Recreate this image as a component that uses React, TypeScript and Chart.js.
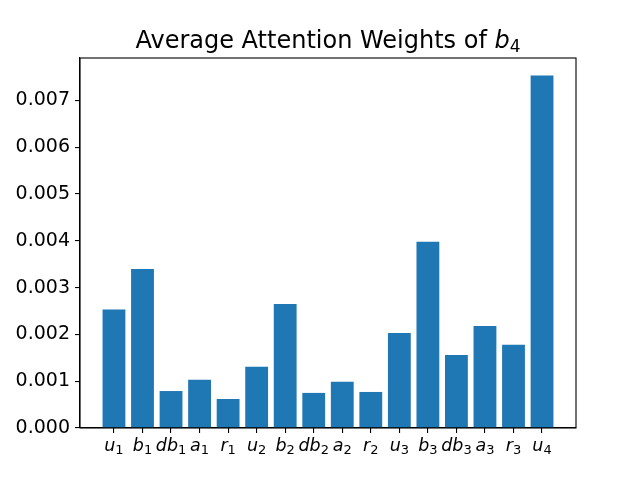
import React, { useEffect, useRef } from "react";
import { Chart, registerables } from "chart.js";

Chart.register(...registerables);

const labelVars = ["u", "b", "db", "a", "r", "u", "b", "db", "a", "r", "u", "b", "db", "a", "r", "u"];
const labelSubs = ["1", "1", "1", "1", "1", "2", "2", "2", "2", "2", "3", "3", "3", "3", "3", "4"];
const weights = [0.00253, 0.00340, 0.00079, 0.00103, 0.00062, 0.00131, 0.00265, 0.00075, 0.00099, 0.00077, 0.00203, 0.00398, 0.00156, 0.00218, 0.00178, 0.00753];
const titleMain = "Average Attention Weights of ";
const titleVar = "b";
const titleSub = "4";

const BLUE = "#1f77b4";

function drawMath(ctx: any, v: string, s: string, cx: number, y: number, size: number, subSize: number, shift: number, center: boolean) {
  const fVar = `oblique ${size}px "DejaVu Sans"`;
  const fSub = `${subSize}px "DejaVu Sans"`;
  ctx.font = fVar;
  const w1 = ctx.measureText(v).width;
  ctx.font = fSub;
  const w2 = ctx.measureText(s).width;
  let x = center ? cx - (w1 + w2) / 2 : cx;
  ctx.font = fVar;
  ctx.fillText(v, x, y);
  x += w1;
  ctx.font = fSub;
  ctx.fillText(s, x, y + shift);
  return w1 + w2;
}

const framePlugin = {
  id: "frameAndTitle",
  afterDraw(chart: any) {
    const { ctx, chartArea } = chart;
    ctx.save();
    ctx.strokeStyle = "#000";
    ctx.lineWidth = 1.1;
    ctx.strokeRect(chartArea.left, chartArea.top, chartArea.right - chartArea.left, chartArea.bottom - chartArea.top);
    ctx.fillStyle = "#000";
    ctx.textBaseline = "alphabetic";
    ctx.textAlign = "left";
    // title
    const size = 24;
    const fMain = `${size}px "DejaVu Sans"`;
    ctx.font = fMain;
    const w1 = ctx.measureText(titleMain).width;
    ctx.font = `oblique ${size}px "DejaVu Sans"`;
    const w2 = ctx.measureText(titleVar).width;
    ctx.font = `${Math.round(size * 0.7)}px "DejaVu Sans"`;
    const w3 = ctx.measureText(titleSub).width;
    const cx = (chartArea.left + chartArea.right) / 2;
    const x0 = cx - (w1 + w2 + w3) / 2;
    ctx.font = fMain;
    ctx.fillText(titleMain, x0, 48);
    drawMath(ctx, titleVar, titleSub, x0 + w1, 48, size, Math.round(size * 0.7), 3.5, false);
    // x tick labels
    const xs = chart.scales.x;
    for (let i = 0; i < labelVars.length; i++) {
      const px = xs.getPixelForValue(i);
      drawMath(ctx, labelVars[i], labelSubs[i], px, 451, 17.5, 13, 2.5, true);
    }
    ctx.restore();
  },
};

export default function App() {
  const ref = useRef<HTMLCanvasElement>(null);
  useEffect(() => {
    if (!ref.current) return;
    const n = labelVars.length;
    const span = (n - 1) + 0.8;
    const margin = span * 0.05;
    const yMax = Math.max(...weights) * 1.05;
    const chart = new Chart(ref.current, {
      type: "bar",
      data: {
        datasets: [
          {
            data: weights.map((v, i) => ({ x: i, y: v })),
            backgroundColor: BLUE,
            borderWidth: 0,
            barPercentage: 0.8,
            categoryPercentage: 1.0,
          },
        ],
      },
      options: {
        animation: false,
        responsive: false,
        devicePixelRatio: 1,
        layout: { padding: { top: 58, right: 64, left: 0, bottom: 0 } },
        plugins: { legend: { display: false }, tooltip: { enabled: false }, title: { display: false } },
        scales: {
          x: {
            type: "linear",
            offset: false,
            min: -0.4 - margin,
            max: n - 1 + 0.4 + margin,
            grid: { display: true, offset: false, drawOnChartArea: false, drawTicks: true, tickLength: 5, color: "#000", lineWidth: 1.1 },
            border: { display: true, color: "#000", width: 1.1 },
            afterBuildTicks: (scale: any) => {
              scale.ticks = labelVars.map((_, i) => ({ value: i }));
            },
            afterFit: (scale: any) => {
              scale.height = 52;
            },
            ticks: {
              autoSkip: false,
              maxRotation: 0,
              minRotation: 0,
              color: "rgba(0,0,0,0)",
              font: { family: "DejaVu Sans", size: 16 },
              callback: () => "",
            },
          },
          y: {
            type: "linear",
            min: 0,
            max: yMax,
            grid: { display: true, drawOnChartArea: false, drawTicks: true, tickLength: 5, color: "#000", lineWidth: 1.1 },
            border: { display: true, color: "#000", width: 1.1 },
            afterFit: (scale: any) => {
              scale.width = 80;
            },
            ticks: {
              stepSize: 0.001,
              includeBounds: false,
              padding: 5,
              color: "#000",
              font: { family: "DejaVu Sans", size: 19 },
              callback: (v: any) => Number(v).toFixed(3),
            },
          },
        },
      },
      plugins: [framePlugin],
    });
    return () => chart.destroy();
  }, []);
  return (
    <div style={{ position: "fixed", left: 0, top: 0, width: 640, height: 480, background: "#fff" }}>
      <canvas ref={ref} width={640} height={480} style={{ width: 640, height: 480 }} />
    </div>
  );
}
